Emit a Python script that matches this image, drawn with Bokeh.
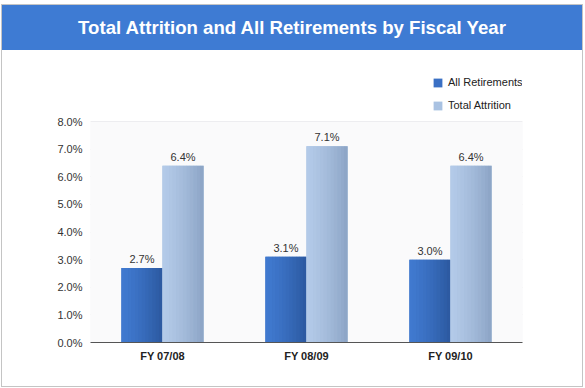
from bokeh.plotting import figure
from bokeh.layouts import column
from bokeh.models import (ColumnDataSource, FactorRange, LabelSet, Div, BoxAnnotation,
                          Legend, LegendItem, PrintfTickFormatter, FixedTicker, Range1d)
from bokeh.core.properties import value
from bokeh.transform import dodge
from bokeh.embed import file_html
from bokeh.resources import INLINE

years = ["FY 07/08", "FY 08/09", "FY 09/10"]
retirements = [2.7, 3.1, 3.0]
attrition = [6.4, 7.1, 6.4]
y_ticks = [0, 1, 2, 3, 4, 5, 6, 7, 8]
title_text = "Total Attrition and All Retirements by Fiscal Year"

DARK = "#3a70c4"
LIGHT = "#a9c2e2"
HEADER = "#3e7bd3"
FONT = "Liberation Sans"

src = ColumnDataSource(dict(
    years=years,
    ret=retirements,
    att=attrition,
    ret_lbl=[f"{v:.1f}%" for v in retirements],
    att_lbl=[f"{v:.1f}%" for v in attrition],
))

# header band
hdr = Div(text=title_text, width=580, height=45, margin=0,
          styles={"background-color": HEADER, "color": "white",
                  "font-family": FONT, "font-weight": "bold", "font-size": "18.6px",
                  "text-align": "center", "line-height": "45px"})

# frame extends above the 8% line to hold the legend; 8% stays at the same pixel row
y_top = 8 * 282 / 221
W, H = 580, 336
p = figure(width=W, height=H, x_range=FactorRange(*years, range_padding=0),
           y_range=Range1d(0, y_top), output_backend="svg", toolbar_location=None,
           min_border_left=88, min_border_right=60, min_border_top=10, min_border_bottom=44,
           margin=0)
p.title = None
p.background_fill_color = "white"
p.border_fill_color = "white"
p.outline_line_color = None
p.add_layout(BoxAnnotation(bottom=0, top=8, fill_color="#fafafb", fill_alpha=1,
                           line_color="#ececef", line_width=1, level="underlay"))

BW = 0.285
NS = 12


def mix(c1, c2, t):
    a = [int(c1[i:i + 2], 16) for i in (1, 3, 5)]
    b = [int(c2[i:i + 2], 16) for i in (1, 3, 5)]
    return "#" + "".join(f"{round(x + (y - x) * t):02x}" for x, y in zip(a, b))


def bar(col, off, c_left, c_right, base):
    r = p.vbar(x=dodge("years", off, range=p.x_range), top=col, width=BW,
               source=src, fill_color=base, line_color=None)
    for i in range(NS):
        t = i / (NS - 1)
        o = off - BW / 2 + (i + 0.5) * BW / NS
        p.vbar(x=dodge("years", o, range=p.x_range), top=col, width=BW / NS * 1.08,
               source=src, fill_color=mix(c_left, c_right, t ** 1.3), line_color=None)
    return r


r1 = bar("ret", -BW / 2, "#4079cf", "#2d5aa2", DARK)
r2 = bar("att", BW / 2, "#b3cae8", "#8ea6c7", LIGHT)

for col, lbl, off in (("ret", "ret_lbl", -BW / 2), ("att", "att_lbl", BW / 2)):
    ls = LabelSet(x=dodge("years", off, range=p.x_range), y=col, text=lbl, source=src,
                  y_offset=3, text_align="center", text_baseline="bottom",
                  text_font=value(FONT), text_font_size="11px", text_color="#333333")
    p.add_layout(ls)

p.yaxis.ticker = FixedTicker(ticks=y_ticks)
p.yaxis.formatter = PrintfTickFormatter(format="%.1f%%")
p.yaxis.axis_line_color = None
p.yaxis.major_tick_line_color = None
p.yaxis.minor_tick_line_color = None
p.yaxis.major_label_standoff = 2
p.yaxis.major_label_text_font = FONT
p.yaxis.major_label_text_font_size = "11px"
p.yaxis.major_label_text_color = "#333333"

p.xaxis.axis_line_color = "#555555"
p.xaxis.axis_line_width = 1.2
p.xaxis.major_tick_line_color = None
p.xaxis.minor_tick_line_color = None
p.xaxis.major_label_standoff = 1
p.xaxis.major_label_text_font = FONT
p.xaxis.major_label_text_font_style = "bold"
p.xaxis.major_label_text_font_size = "11px"
p.xaxis.major_label_text_color = "#222222"

p.xgrid.grid_line_color = None
p.ygrid.grid_line_color = "#e2e2e6"
p.ygrid.grid_line_width = 1

legend = Legend(items=[LegendItem(label="All Retirements", renderers=[r1]),
                       LegendItem(label="Total Attrition", renderers=[r2])],
                location=(342, 231), orientation="vertical",
                glyph_width=11, glyph_height=11, label_height=11, spacing=11,
                padding=0, margin=0, border_line_color=None, background_fill_alpha=0,
                label_text_font=FONT, label_text_font_size="11px",
                label_text_color="#222222", label_standoff=5)
p.add_layout(legend, "center")

layout = column(hdr, p, spacing=0, margin=(5, 0, 0, 2),
                styles={"outline": "1px solid #c4c4c4"})
open("out.html", "w").write(file_html(layout, INLINE))
